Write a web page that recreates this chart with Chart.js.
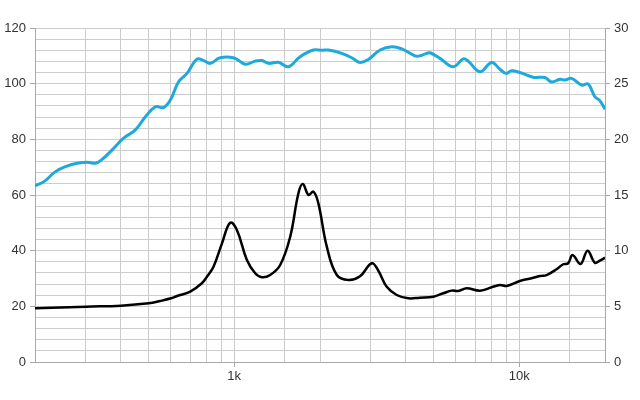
<!DOCTYPE html>
<html>
<head>
<meta charset="utf-8">
<script src="https://cdn.jsdelivr.net/npm/chart.js@4"></script>
<style>
  body { margin: 0; background: #fff; }
</style>
</head>
<body>
<canvas id="grafico" width="640" height="400"></canvas>
<script>
// ==================== DATOS ====================
// respuesta en frecuencia (eje izquierdo, dB)
const splFreq = [200, 215, 236, 259, 281, 305, 326, 344, 373, 409, 450, 488, 529, 565, 597, 638, 683, 740, 781, 824, 893, 1000,
  1093, 1185, 1251, 1319, 1430, 1550, 1703, 1897, 2030, 2141, 2385, 2585, 2764, 2956, 3250, 3570, 3871, 4309, 4486, 4736,
  4864, 5272, 5870, 6363, 6625, 7282, 8005, 8557, 8982, 9406, 10057, 11196, 12306, 12989, 13888, 14462, 15262, 16549,
  17450, 18421, 19178, 20000];
const splDb = [63.3, 64.8, 68.4, 70.4, 71.4, 71.8, 71.4, 72.8, 76.2, 80.4, 83.4, 88.1, 91.7, 91.4, 94.1, 100.7, 103.7, 108.8, 108.3, 107.3, 109.3, 109.2,
  107.0, 108.1, 108.3, 107.3, 107.7, 106.1, 109.7, 112.1, 112.0, 112.1, 110.9, 109.3, 107.6, 108.7, 112.1, 113.3, 112.5, 110.0, 110.0, 110.9,
  111.1, 109.1, 106.1, 108.9, 108.1, 104.3, 107.6, 105.2, 103.7, 104.6, 104.0, 102.3, 102.2, 100.6, 101.6, 101.3, 101.9, 99.5,
  99.9, 95.3, 93.9, 90.8];

// impedancia (eje derecho, ohm)
const impFreq = [200, 302, 401, 501, 550, 600, 630, 701, 770, 802, 846, 906, 968, 1022, 1108, 1185, 1251, 1337, 1450, 1572,
  1680, 1741, 1822, 1897, 1974, 2113, 2291, 2516, 2764, 3039, 3204, 3429, 3718, 4082, 4486, 4996, 5415, 5796, 6112, 6541,
  7282, 8005, 8557, 9033, 10057, 11052, 11816, 12474, 13526, 14266, 14851, 15390, 16417, 17370, 18421, 19178, 20000];
const impOhm = [4.82, 4.97, 5.06, 5.27, 5.48, 5.72, 5.93, 6.32, 7.07, 7.66, 8.56, 10.66, 12.51, 11.86, 9.16, 7.97, 7.61, 7.81, 8.71, 11.25,
  15.15, 15.99, 15.0, 15.3, 14.25, 10.36, 7.81, 7.37, 7.7, 8.87, 8.2, 6.76, 6.02, 5.72, 5.78, 5.87, 6.17, 6.41, 6.38, 6.62,
  6.41, 6.71, 6.92, 6.83, 7.28, 7.52, 7.72, 7.81, 8.33, 8.78, 8.87, 9.61, 8.80, 10.0, 8.92, 9.10, 9.37];

// etiquetas de los ejes
const xTickLabels = { 1000: '1k', 10000: '10k' };
const leftMax = 120, leftLabelStep = 20, leftGridStep = 4;
const rightMax = 30, rightLabelStep = 5, rightGridStep = 1;

// ==================== GRÁFICO ====================
const fuente = { family: '"Liberation Sans", Arial, sans-serif', size: 13 };
const colorTexto = '#333';
const colorRejilla = '#cccccc';
const colorEje = '#a8a8a8';

const ctx = document.getElementById('grafico').getContext('2d');
new Chart(ctx, {
  type: 'line',
  data: {
    datasets: [{
      label: 'SPL',
      data: splFreq.map((f, i) => ({ x: f, y: splDb[i] })),
      borderColor: '#1ea9dc',
      borderWidth: 3,
      pointRadius: 0,
      tension: 0.4,
      yAxisID: 'y'
    }, {
      label: 'Impedancia',
      data: impFreq.map((f, i) => ({ x: f, y: impOhm[i] })),
      borderColor: '#000',
      borderWidth: 2.5,
      pointRadius: 0,
      tension: 0.4,
      yAxisID: 'y1'
    }]
  },
  options: {
    responsive: false,
    animation: false,
    layout: { padding: { top: 28 } },
    plugins: { legend: { display: false }, tooltip: { enabled: false } },
    scales: {
      x: {
        type: 'logarithmic',
        min: 200,
        max: 20000,
        border: { color: colorEje },
        grid: {
          color: colorRejilla,
          tickLength: 5,
          tickColor: c => (c.tick && xTickLabels[c.tick.value]) ? colorEje : 'rgba(0,0,0,0)'
        },
        ticks: {
          autoSkip: false,
          maxRotation: 0,
          padding: 2,
          font: fuente,
          color: colorTexto,
          callback: v => xTickLabels[v] ?? ''
        },
        afterFit: s => { s.height = 38; }
      },
      y: {
        position: 'left',
        min: 0,
        max: leftMax,
        border: { color: colorEje },
        grid: {
          color: colorRejilla,
          tickLength: 5,
          tickColor: c => (c.tick && c.tick.value % leftLabelStep === 0) ? colorEje : 'rgba(0,0,0,0)'
        },
        ticks: {
          stepSize: leftGridStep,
          autoSkip: false,
          padding: 4,
          font: fuente,
          color: colorTexto,
          callback: v => v % leftLabelStep === 0 ? v : ''
        },
        afterFit: s => { s.width = 35; }
      },
      y1: {
        position: 'right',
        min: 0,
        max: rightMax,
        border: { color: colorEje },
        grid: {
          drawOnChartArea: false,
          tickLength: 5,
          tickColor: c => (c.tick && c.tick.value % rightLabelStep === 0) ? colorEje : 'rgba(0,0,0,0)'
        },
        ticks: {
          stepSize: rightGridStep,
          autoSkip: false,
          padding: 4,
          font: fuente,
          color: colorTexto,
          callback: v => v % rightLabelStep === 0 ? v : ''
        },
        afterFit: s => { s.width = 35; }
      }
    }
  }
});
</script>
</body>
</html>
